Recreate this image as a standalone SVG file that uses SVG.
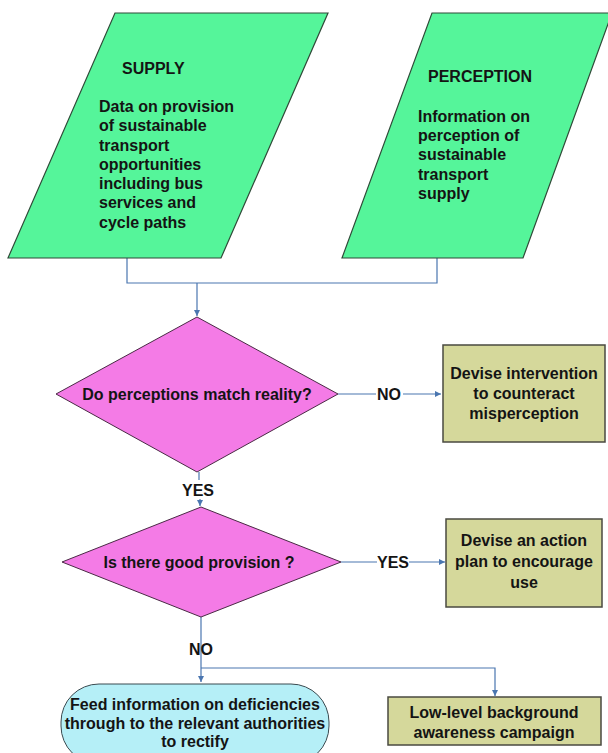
<svg xmlns="http://www.w3.org/2000/svg" width="608" height="753" viewBox="0 0 608 753">
<defs>
<marker id="arr" markerWidth="8" markerHeight="8" refX="6" refY="3" orient="auto" markerUnits="userSpaceOnUse">
<path d="M0,0 L6,3 L0,6 Z" fill="#4a76b0"/>
</marker>
<style>
text{font-family:"Liberation Sans",Arial,sans-serif;font-weight:bold;font-size:16px;fill:#141414}
.io{fill:#55f59a;stroke:#2f4a38;stroke-width:1.2}
.dec{fill:#f47be6;stroke:#4a2a45;stroke-width:1}
.box{fill:#d5d89b;stroke:#4a4a40;stroke-width:1.5}
.term{fill:#b5eff7;stroke:#3a4a50;stroke-width:1}
.c{fill:none;stroke:#4a76b0;stroke-width:1.2}
.m{text-anchor:middle}
</style>
</defs>
<rect width="608" height="753" fill="#ffffff"/>
<g id="connectors">
<polyline class="c" points="127,258 127,283 437,283 437,258"/>
<line class="c" x1="197" y1="283" x2="197" y2="316" marker-end="url(#arr)"/>
<line class="c" x1="338" y1="394" x2="376" y2="394"/>
<line class="c" x1="403" y1="394" x2="441" y2="394" marker-end="url(#arr)"/>
<line class="c" x1="199" y1="472" x2="199" y2="480"/>
<line class="c" x1="200" y1="499" x2="200" y2="506" marker-end="url(#arr)"/>
<line class="c" x1="341" y1="562" x2="377" y2="562"/>
<line class="c" x1="409" y1="562" x2="445" y2="562" marker-end="url(#arr)"/>
<line class="c" x1="201" y1="617" x2="201" y2="682" marker-end="url(#arr)"/>
<polyline class="c" points="201,668 495,668 495,696" marker-end="url(#arr)"/>
<text x="389" y="400" class="m">NO</text>
<text x="198" y="496" class="m">YES</text>
<text x="393" y="568" class="m">YES</text>
<text x="201" y="655" class="m">NO</text>
</g>
<g id="supply">
<polygon class="io" points="115,13 328,13 221,258 8,258"/>
<text x="122" y="74">SUPPLY</text>
<text x="99" y="112">Data on provision</text>
<text x="99" y="131">of sustainable</text>
<text x="99" y="151">transport</text>
<text x="99" y="170">opportunities</text>
<text x="99" y="189">including bus</text>
<text x="99" y="208">services and</text>
<text x="99" y="228">cycle paths</text>
</g>
<g id="perception">
<polygon class="io" points="432,13 612,13 523,258 342,258"/>
<text x="428" y="82">PERCEPTION</text>
<text x="418" y="122">Information on</text>
<text x="418" y="141">perception of</text>
<text x="418" y="160">sustainable</text>
<text x="418" y="180">transport</text>
<text x="418" y="199">supply</text>
</g>
<g id="match">
<polygon class="dec" points="197,317 338,394 197,472 56,394"/>
<text x="197" y="400" class="m">Do perceptions match reality?</text>
</g>
<g id="intervention">
<rect class="box" x="443" y="345" width="162" height="97"/>
<text x="524" y="379" class="m">Devise intervention</text>
<text x="524" y="399" class="m">to counteract</text>
<text x="524" y="419" class="m">misperception</text>
</g>
<g id="provision">
<polygon class="dec" points="201,507 341,562 201,617 62,562"/>
<text x="199" y="568" class="m">Is there good provision ?</text>
</g>
<g id="action">
<rect class="box" x="446" y="519" width="156" height="88"/>
<text x="524" y="546" class="m">Devise an action</text>
<text x="524" y="567" class="m">plan to encourage</text>
<text x="524" y="588" class="m">use</text>
</g>
<g id="feed">
<rect class="term" x="61" y="684" width="268" height="80" rx="38" ry="38"/>
<text x="195" y="710" class="m">Feed information on deficiencies</text>
<text x="195" y="729" class="m">through to the relevant authorities</text>
<text x="195" y="747" class="m">to rectify</text>
</g>
<g id="campaign">
<rect class="box" x="388" y="697" width="213" height="48"/>
<text x="494" y="718" class="m">Low-level background</text>
<text x="494" y="738" class="m">awareness campaign</text>
</g>
</svg>
